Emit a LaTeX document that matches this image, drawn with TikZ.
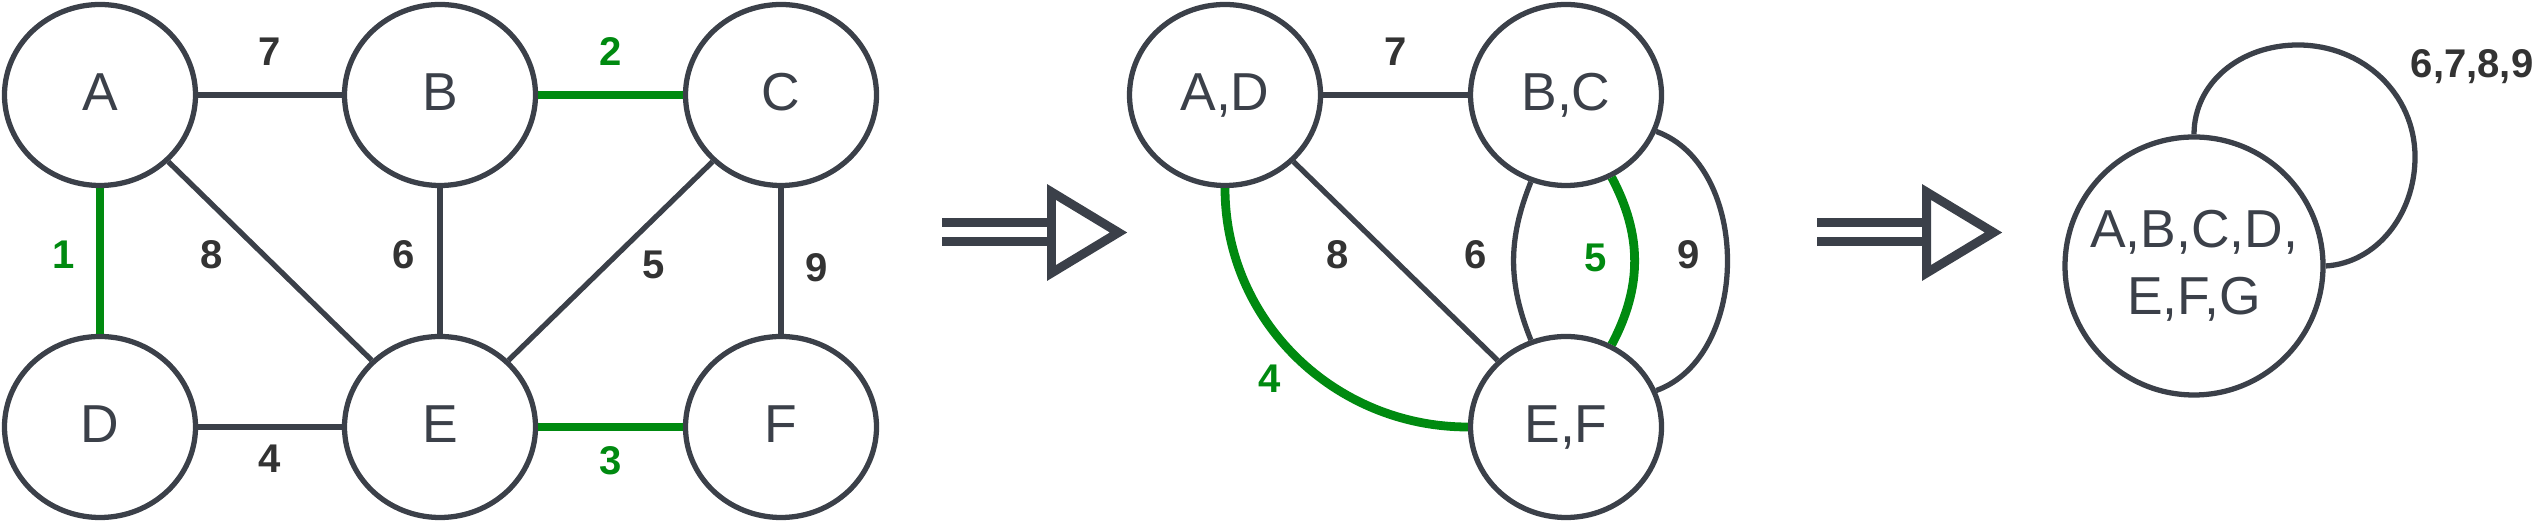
\documentclass[tikz,border=0pt]{standalone}
\usepackage{fontspec}
\setmainfont{Liberation Sans}
\usepackage{tikz}
\usetikzlibrary{shapes.geometric}
\definecolor{slate}{HTML}{3B4049}
\definecolor{ink}{HTML}{333333}
\definecolor{tree}{HTML}{008A10}
\tikzstyle{vertex}=[ellipse, draw=slate, line width=1.5pt, text=slate, inner sep=0pt,
  minimum width=1.91cm, minimum height=1.81cm, text height=12pt, text depth=3pt,
  font=\fontsize{15.2}{19}\selectfont]
\tikzstyle{wt}=[text=ink, inner sep=0pt, font=\fontsize{11.4}{14}\selectfont\bfseries]
\tikzset{edge/.style={draw=slate, line width=1.5pt},
  mst/.style={draw=tree, line width=2.5pt},
  mstwt/.style={wt, text=tree},
  implies/.style={draw=slate, line width=2.55pt}}

\begin{document}
\begin{tikzpicture}
    \useasboundingbox (0,0) rectangle (25.35,5.23);
    % original graph
    \node[vertex] (A) at (1.00,4.28) {A};
    \node[vertex] (B) at (4.40,4.28) {B};
    \node[vertex] (C) at (7.81,4.28) {C};
    \node[vertex] (D) at (1.00,0.96) {D};
    \node[vertex] (E) at (4.40,0.96) {E};
    \node[vertex] (F) at (7.81,0.96) {F};
    \draw[edge] (A) -- (B);
    \draw[mst] (B) -- (C);
    \draw[mst] (A) -- (D);
    \draw[edge] (A) -- (E);
    \draw[edge] (B) -- (E);
    \draw[edge] (C) -- (E);
    \draw[edge] (C) -- (F);
    \draw[edge] (D) -- (E);
    \draw[mst] (E) -- (F);
    \node[wt] (w7) at (2.70,4.715) {7};
    \node[mstwt] (w2) at (6.11,4.715) {2};
    \node[mstwt] (w1) at (0.64,2.68) {1};
    \node[wt] (w8) at (2.12,2.68) {8};
    \node[wt] (w6) at (4.04,2.68) {6};
    \node[wt] (w5) at (6.54,2.58) {5};
    \node[wt] (w9) at (8.17,2.55) {9};
    \node[wt] (w4) at (2.70,0.64) {4};
    \node[mstwt] (w3) at (6.11,0.62) {3};

    % the two "implies" arrows
    \foreach \dx in {0,8.75} {
      \draw[implies] (9.42+\dx,3.005) -- (10.47+\dx,3.005)
                     (9.42+\dx,2.815) -- (10.47+\dx,2.815);
      \draw[implies] (10.515+\dx,3.31) -- (10.515+\dx,2.50) -- (11.185+\dx,2.905) -- cycle;
    }

    % after contracting 1, 2, 3
    \node[vertex] (AD) at (12.25,4.28) {A,D};
    \node[vertex] (BC) at (15.66,4.28) {B,C};
    \node[vertex] (EF) at (15.66,0.96) {E,F};
    \draw[edge] (AD) -- (BC);
    \draw[edge] (AD) -- (EF);
    \draw[mst] (AD.south) to[out=-90,in=180] (EF.west);
    \draw[edge] (BC.-112) to[bend right=22] (EF.112);
    \draw[mst] (BC.-61) to[bend left=28] (EF.61);
    \draw[edge] (BC.-22) to[out=-20,in=20] (EF.22);
    \node[wt] (v7) at (13.96,4.715) {7};
    \node[wt] (v8) at (13.38,2.68) {8};
    \node[wt] (v6) at (14.76,2.68) {6};
    \node[mstwt] (v5) at (15.96,2.65) {5};
    \node[wt] (v9) at (16.89,2.68) {9};
    \node[mstwt] (v4) at (12.70,1.44) {4};

    % everything contracted
    \node[circle, draw=slate, line width=1.5pt, text=slate, inner sep=0pt,
      minimum size=2.58cm, align=center,
      font=\fontsize{15.2}{19}\selectfont] (all) at (21.94,2.57) {A,B,C,D,\\E,F,G};
    \draw[edge] (all.north) .. controls (21.94,4.40) and (22.40,4.78) .. (22.98,4.78)
      .. controls (23.63,4.78) and (24.15,4.29) .. (24.15,3.66)
      .. controls (24.15,3.08) and (23.76,2.60) .. (all.east);
    \node[wt] (loopw) at (24.72,4.56) {6,7,8,9};
\end{tikzpicture}
\end{document}
